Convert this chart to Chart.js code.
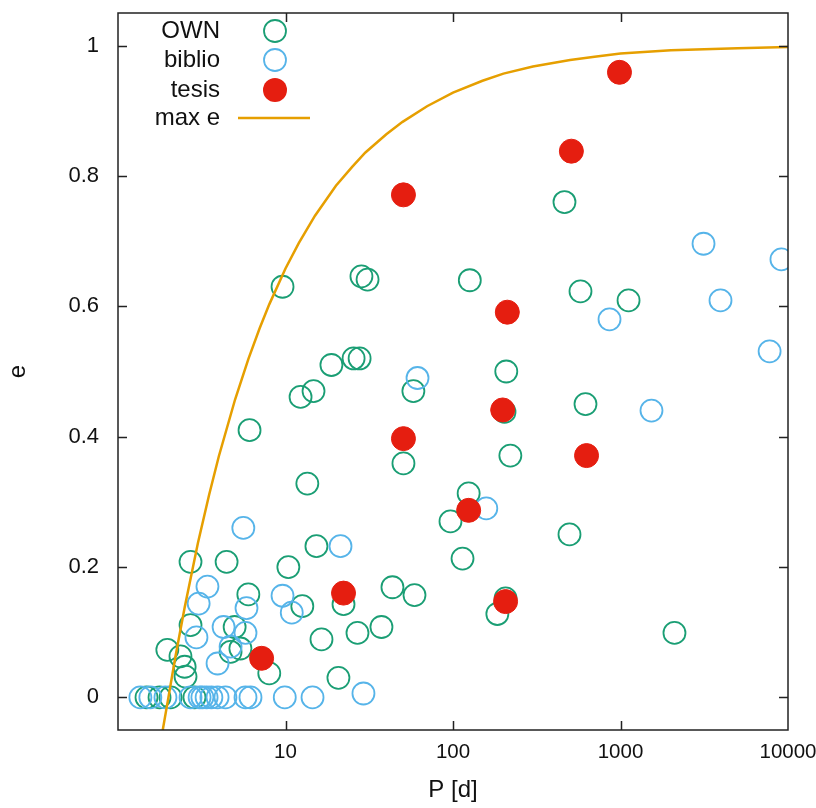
<!DOCTYPE html>
<html>
<head>
<meta charset="utf-8">
<script src="https://cdn.jsdelivr.net/npm/chart.js@4.4.0/dist/chart.umd.min.js"></script>
<style>
  html, body { margin: 0; padding: 0; background: #fff; }
  #wrap { width: 816px; height: 808px; }
</style>
</head>
<body>
<div id="wrap"><canvas id="chart" width="816" height="808"></canvas></div>
<script>
// period P [d] and eccentricity e
const ownP = [9.6, 28.4, 30.9, 126, 463, 577, 1117, 208, 203, 618, 220, 18.8, 25.5, 27.7, 12.3, 14.7, 58,
  6.1, 13.5, 50.6, 124, 96.6, 15.3, 114, 496, 184, 2100, 10.4, 12.6, 22.2, 43.5, 58.9, 26.9, 37.4, 16.4,
  20.7, 2.71, 4.45, 6.0, 2.71, 4.97, 4.7, 5.38, 8.0, 1.97, 2.36, 2.5, 2.53, 1.48, 1.77, 2.06, 2.86, 206];
const ownE = [0.63, 0.646, 0.641, 0.64, 0.76, 0.623, 0.609, 0.50, 0.438, 0.45, 0.371, 0.51, 0.52, 0.52, 0.461, 0.47, 0.47,
  0.41, 0.328, 0.359, 0.313, 0.27, 0.232, 0.213, 0.25, 0.128, 0.099, 0.2, 0.14, 0.143, 0.169, 0.157, 0.099, 0.108, 0.089,
  0.03, 0.208, 0.208, 0.158, 0.111, 0.108, 0.07, 0.075, 0.037, 0.073, 0.063, 0.047, 0.032, 0, 0, 0, 0, 0.152];

const biblioP = [3131, 9140, 3954, 7766, 860, 1531, 61.4, 158, 5.6, 21.3, 3.42, 9.6, 3.03, 5.85, 10.9, 2.94, 4.27,
  5.77, 4.70, 3.93, 29.2, 14.5, 9.9, 1.36, 1.56, 1.92, 2.71, 3.07, 3.19, 3.38, 3.61, 3.93, 4.38, 5.77, 6.18];
const biblioE = [0.696, 0.672, 0.609, 0.531, 0.58, 0.44, 0.49, 0.29, 0.26, 0.232, 0.17, 0.156, 0.144, 0.137, 0.13, 0.092, 0.108,
  0.099, 0.078, 0.052, 0.006, 0, 0, 0, 0, 0, 0, 0, 0, 0, 0, 0, 0, 0, 0];

const tesisP = [986, 509, 50.6, 211, 198, 50.6, 627, 124, 22.2, 206, 7.2];
const tesisE = [0.959, 0.838, 0.771, 0.591, 0.441, 0.397, 0.371, 0.287, 0.16, 0.147, 0.06];

// max e curve
const maxP = [1.85, 2, 2.2, 2.5, 3, 3.5, 4, 5, 6, 7, 8, 10, 12, 15, 20, 25, 30, 40, 50, 70, 100, 150, 200, 300,
  500, 700, 1000, 2000, 5000, 10000];
const maxE = [-0.05, 0, 0.062, 0.138, 0.237, 0.311, 0.370, 0.457, 0.519, 0.566, 0.603, 0.658, 0.697, 0.739, 0.785,
  0.814, 0.836, 0.864, 0.883, 0.907, 0.928, 0.946, 0.957, 0.968, 0.978, 0.983, 0.988, 0.993, 0.996, 0.998];

const xTicks = [10, 100, 1000, 10000];
const yTicks = [0, 0.2, 0.4, 0.6, 0.8, 1];

const names = ['OWN', 'biblio', 'tesis', 'max e'];
const green = '#1a9e74';
const blue = '#56b4e9';
const red = '#e51e10';
const orange = '#e69f00';
const fontFamily = '"Liberation Sans", Arial, sans-serif';

function pts(xs, ys) {
  return xs.map((x, i) => ({ x: x, y: ys[i] }));
}

// frame with inward ticks on all four sides
const framePlugin = {
  id: 'frame',
  afterDatasetsDraw(chart) {
    const ctx = chart.ctx;
    const a = chart.chartArea;
    const xs = chart.scales.x;
    const ys = chart.scales.y;
    ctx.save();
    ctx.strokeStyle = '#222';
    ctx.lineWidth = 1.5;
    ctx.strokeRect(a.left, a.top, a.right - a.left, a.bottom - a.top);
    ctx.beginPath();
    xTicks.forEach(v => {
      const px = Math.round(xs.getPixelForValue(v)) + 0.5;
      if (px > a.right - 2) return;
      ctx.moveTo(px, a.bottom); ctx.lineTo(px, a.bottom - 9);
      ctx.moveTo(px, a.top); ctx.lineTo(px, a.top + 9);
    });
    yTicks.forEach(v => {
      const py = Math.round(ys.getPixelForValue(v)) + 0.5;
      ctx.moveTo(a.left, py); ctx.lineTo(a.left + 9, py);
      ctx.moveTo(a.right, py); ctx.lineTo(a.right - 9, py);
    });
    ctx.stroke();
    ctx.restore();
  }
};

// gnuplot-style key: text right-aligned, symbol to the right
const keyPlugin = {
  id: 'key',
  afterDraw(chart) {
    const ctx = chart.ctx;
    const textRight = 220;
    const symX = 275;
    const rows = [31, 60, 90, 118];
    ctx.save();
    ctx.font = '24px ' + fontFamily;
    ctx.fillStyle = '#111';
    ctx.textAlign = 'right';
    ctx.textBaseline = 'middle';
    names.forEach((n, i) => ctx.fillText(n, textRight, rows[i]));
    ctx.lineWidth = 1.8;
    ctx.strokeStyle = green;
    ctx.beginPath(); ctx.arc(symX, rows[0], 11, 0, Math.PI * 2); ctx.stroke();
    ctx.strokeStyle = blue;
    ctx.beginPath(); ctx.arc(symX, rows[1], 11, 0, Math.PI * 2); ctx.stroke();
    ctx.fillStyle = red;
    ctx.beginPath(); ctx.arc(symX, rows[2], 12, 0, Math.PI * 2); ctx.fill();
    ctx.strokeStyle = orange;
    ctx.lineWidth = 2.5;
    ctx.beginPath(); ctx.moveTo(238, rows[3]); ctx.lineTo(310, rows[3]); ctx.stroke();
    ctx.restore();
  }
};

const chart = new Chart(document.getElementById('chart'), {
  type: 'scatter',
  data: {
    datasets: [
      {
        label: names[0],
        data: pts(ownP, ownE),
        borderColor: green,
        backgroundColor: 'rgba(0,0,0,0)',
        borderWidth: 1.8,
        pointRadius: 11,
        pointHoverRadius: 11,
        order: 3
      },
      {
        label: names[1],
        data: pts(biblioP, biblioE),
        borderColor: blue,
        backgroundColor: 'rgba(0,0,0,0)',
        borderWidth: 1.8,
        pointRadius: 11,
        pointHoverRadius: 11,
        order: 2
      },
      {
        label: names[2],
        data: pts(tesisP, tesisE),
        borderColor: red,
        backgroundColor: red,
        borderWidth: 1,
        pointRadius: 12,
        pointHoverRadius: 12,
        order: 1
      },
      {
        label: names[3],
        data: pts(maxP, maxE),
        showLine: true,
        borderColor: orange,
        borderWidth: 2.5,
        pointRadius: 0,
        pointHoverRadius: 0,
        order: 0
      }
    ]
  },
  options: {
    responsive: false,
    animation: false,
    layout: { padding: { top: 8, right: 28, left: 0, bottom: 0 } },
    plugins: {
      legend: { display: false },
      tooltip: { enabled: false }
    },
    scales: {
      x: {
        type: 'logarithmic',
        min: 1,
        max: 10000,
        afterBuildTicks: scale => { scale.ticks = xTicks.map(v => ({ value: v })); },
        afterFit: scale => {
          scale.height = 78;
          scale.paddingLeft = 0;
          scale.paddingRight = 0;
        },
        grid: { display: false, drawTicks: false },
        border: { display: false },
        ticks: {
          autoSkip: false,
          maxRotation: 0,
          padding: 10,
          color: '#111',
          font: { family: fontFamily, size: 20.5 },
          callback: v => String(v)
        },
        title: {
          display: true,
          text: 'P [d]',
          color: '#111',
          font: { family: fontFamily, size: 24 },
          padding: { top: 4, bottom: 3 }
        }
      },
      y: {
        type: 'linear',
        min: -0.05,
        max: 1.05,
        afterBuildTicks: scale => { scale.ticks = yTicks.map(v => ({ value: v })); },
        afterFit: scale => {
          scale.width = 118;
          scale.paddingTop = 0;
          scale.paddingBottom = 0;
        },
        grid: { display: false, drawTicks: false },
        border: { display: false },
        ticks: {
          padding: 19,
          color: '#111',
          font: { family: fontFamily, size: 22 },
          callback: v => String(Math.round(v * 10) / 10)
        },
        title: {
          display: true,
          text: 'e',
          color: '#111',
          font: { family: fontFamily, size: 24 },
          padding: { top: 4, bottom: 0 }
        }
      }
    }
  },
  plugins: [framePlugin, keyPlugin]
});
</script>
</body>
</html>
